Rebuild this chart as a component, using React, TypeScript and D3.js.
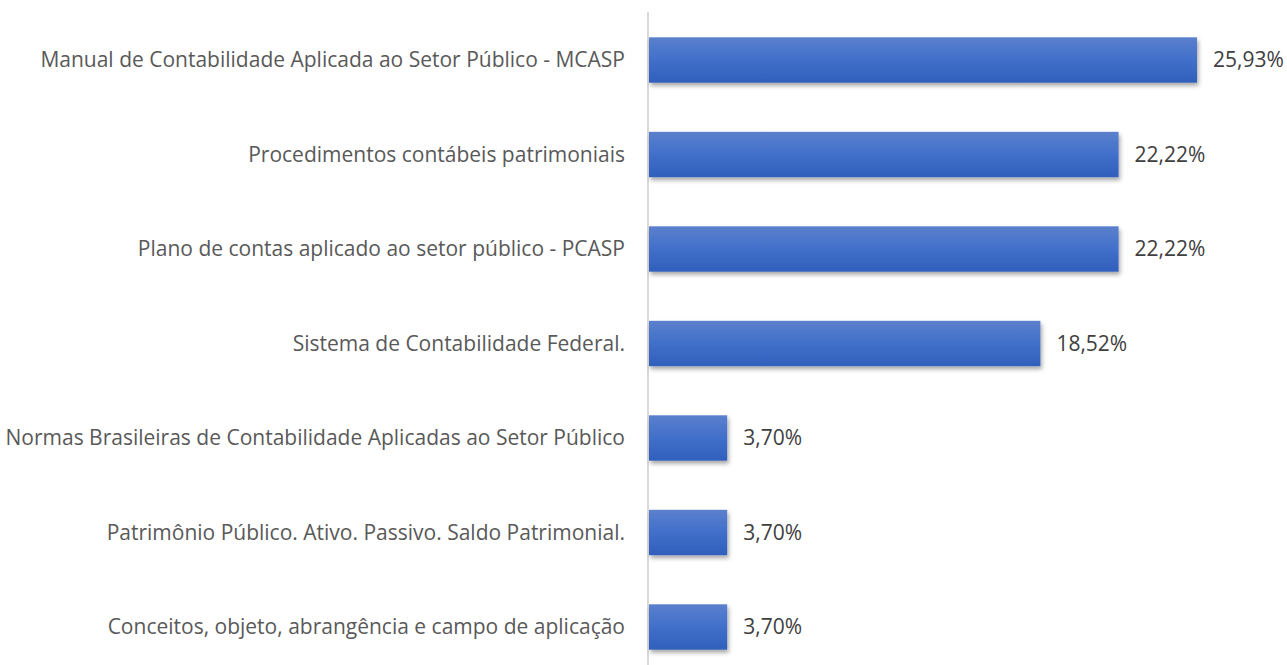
import React, { useEffect, useRef } from "react";
import * as d3 from "d3";

const categories = [
  "Manual de Contabilidade Aplicada ao Setor Público - MCASP",
  "Procedimentos contábeis patrimoniais",
  "Plano de contas aplicado ao setor público - PCASP",
  "Sistema de Contabilidade Federal.",
  "Normas Brasileiras de Contabilidade Aplicadas ao Setor Público",
  "Patrimônio Público. Ativo. Passivo. Saldo Patrimonial.",
  "Conceitos, objeto, abrangência e campo de aplicação",
];
const values = [25.93, 22.22, 22.22, 18.52, 3.7, 3.7, 3.7];
const valueLabels = ["25,93%", "22,22%", "22,22%", "18,52%", "3,70%", "3,70%", "3,70%"];

const App = () => {
  const svgRef = useRef<SVGSVGElement>(null);

  useEffect(() => {
    const width = 1287;
    const height = 665;
    const axisX = 649;
    const font = "'Open Sans', 'Noto Sans', sans-serif";

    const svg = d3.select(svgRef.current);
    svg.selectAll("*").remove();
    svg.attr("width", width).attr("height", height);

    // Gradient + shadow
    const defs = svg.append("defs");
    const grad = defs
      .append("linearGradient")
      .attr("id", "barGrad")
      .attr("x1", 0)
      .attr("y1", 0)
      .attr("x2", 0)
      .attr("y2", 1);
    grad.append("stop").attr("offset", "0%").attr("stop-color", "#5b80cd");
    grad.append("stop").attr("offset", "50%").attr("stop-color", "#416fca");
    grad.append("stop").attr("offset", "100%").attr("stop-color", "#305fbb");

    const shadow = defs
      .append("filter")
      .attr("id", "shadow")
      .attr("x", "-10%")
      .attr("y", "-30%")
      .attr("width", "130%")
      .attr("height", "180%");
    shadow
      .append("feDropShadow")
      .attr("dx", 1.5)
      .attr("dy", 3)
      .attr("stdDeviation", 2)
      .attr("flood-color", "#000")
      .attr("flood-opacity", 0.35);

    const x = d3.scaleLinear().domain([0, 25.93]).range([axisX, 1197]);
    const y = d3
      .scaleBand<string>()
      .domain(categories)
      .range([12.75, 674.25])
      .paddingInner(0.52)
      .paddingOuter(0.26);

    // Axis line
    svg
      .append("line")
      .attr("x1", axisX - 1)
      .attr("x2", axisX - 1)
      .attr("y1", 12)
      .attr("y2", height)
      .attr("stroke", "#d9d9d9")
      .attr("stroke-width", 2);

    const rows = svg
      .selectAll("g.row")
      .data(categories)
      .enter()
      .append("g")
      .attr("class", "row");

    rows
      .append("rect")
      .attr("x", axisX)
      .attr("y", (d) => y(d)!)
      .attr("height", y.bandwidth())
      .attr("width", (d, i) => x(values[i]) - axisX)
      .attr("fill", "url(#barGrad)")
      .attr("filter", "url(#shadow)");

    // Category labels
    rows
      .append("text")
      .attr("x", 625)
      .attr("y", (d) => y(d)! + y.bandwidth() / 2)
      .attr("dy", "0.35em")
      .attr("text-anchor", "end")
      .style("font-family", font)
      .style("font-size", "21px")
      .style("fill", "#595959")
      .text((d) => d);

    // Value labels
    rows
      .append("text")
      .attr("x", (d, i) => x(values[i]) + 16)
      .attr("y", (d) => y(d)! + y.bandwidth() / 2)
      .attr("dy", "0.35em")
      .style("font-family", font)
      .style("font-size", "21px")
      .style("fill", "#404040")
      .text((d, i) => valueLabels[i]);
  }, []);

  return <svg ref={svgRef} style={{ position: "absolute", left: 0, top: 0 }}></svg>;
};

export default App;
